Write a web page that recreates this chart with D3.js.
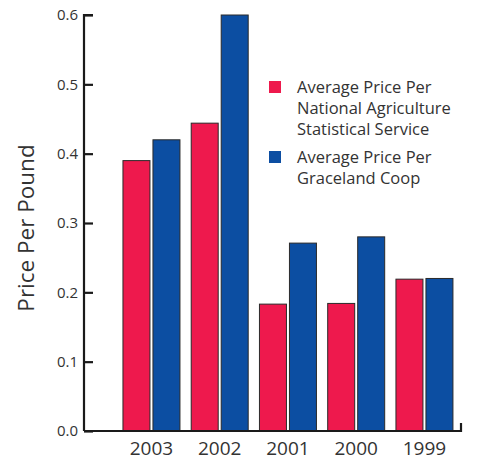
<!DOCTYPE html>
<html>
<head>
<meta charset="utf-8">
<script src="https://cdn.jsdelivr.net/npm/d3@7"></script>
<style>
  body { margin: 0; background: #fff; }
  text { font-family: "Open Sans", "Noto Sans", sans-serif; fill: #333; }
</style>
</head>
<body>
<div id="chart"></div>
<script>
var years = ["2003", "2002", "2001", "2000", "1999"];
var nassPrice = [0.39, 0.444, 0.183, 0.184, 0.219];   // National Agriculture Statistical Service
var coopPrice = [0.42, 0.6, 0.271, 0.28, 0.22];       // Graceland Coop
var yTicks = [0, 0.1, 0.2, 0.3, 0.4, 0.5, 0.6];
var seriesNames = [
	["Average Price Per", "National Agriculture", "Statistical Service"],
	["Average Price Per", "Graceland Coop"]
];
var colors = ["#ee194d", "#0c4ea2"];

var width = 477, height = 462;
var svg = d3.select("#chart").append("svg").attr("width", width).attr("height", height);

var x = d3.scaleBand().domain(years).range([111.7, 464.2]).paddingInner(0.165).paddingOuter(0.165);
var xs = d3.scaleBand().domain([0, 1]).range([0, x.bandwidth()]).paddingInner(0.1);
var y = d3.scaleLinear().domain([0, 0.6]).range([431, 15]);

// bars
var groups = svg.selectAll("g.year").data(years).enter().append("g")
	.attr("class", "year")
	.attr("transform", function(d) { return "translate(" + x(d) + ",0)"; });
groups.selectAll("rect").data(function(d, i) {
	return [nassPrice[i], coopPrice[i]];
}).enter().append("rect")
	.attr("x", function(d, j) { return xs(j); })
	.attr("y", function(d) { return y(d); })
	.attr("width", xs.bandwidth())
	.attr("height", function(d) { return y(0) - y(d); })
	.attr("fill", function(d, j) { return colors[j]; })
	.attr("stroke", "#2a2a2a")
	.attr("stroke-width", 1);

// y axis, ticks point inward
var yAxis = svg.append("g").attr("transform", "translate(84,0)")
	.call(d3.axisRight(y).tickValues(yTicks).tickFormat(d3.format(".1f")).tickSize(9));
yAxis.select(".domain").attr("d", "M9,15H0V431").attr("stroke", "#1a1a1a").attr("stroke-width", 2.2);
yAxis.selectAll(".tick line").attr("stroke", "#1a1a1a").attr("stroke-width", 2.2);
yAxis.selectAll(".tick text").attr("text-anchor", "end").attr("x", -6)
	.style("font-size", "15px").attr("fill", "#333");

// x axis
var xAxis = svg.append("g").attr("transform", "translate(0,431)")
	.call(d3.axisBottom(x).tickSize(0).tickPadding(11));
xAxis.select(".domain").attr("d", "M84,0H461V-8").attr("stroke", "#1a1a1a").attr("stroke-width", 2.2).attr("fill", "none");
xAxis.selectAll(".tick text").style("font-size", "19px").attr("fill", "#333");

// y title
svg.append("text")
	.attr("transform", "translate(34,228) rotate(-90)")
	.attr("text-anchor", "middle")
	.style("font-size", "22.5px")
	.text("Price Per Pound");

// legend
var legendTop = [87, 157];
seriesNames.forEach(function(lines, i) {
	var g = svg.append("g").attr("transform", "translate(269," + legendTop[i] + ")");
	g.append("rect").attr("x", 0).attr("y", -6).attr("width", 12).attr("height", 12).attr("fill", colors[i]);
	g.selectAll("text").data(lines).enter().append("text")
		.attr("x", 28)
		.attr("y", function(d, k) { return k * 21 + 6; })
		.style("font-size", "16.5px")
		.text(function(d) { return d; });
});
</script>
</body>
</html>
